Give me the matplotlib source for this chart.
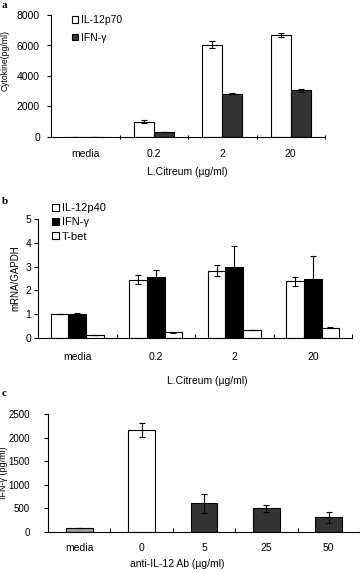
import numpy as np
import matplotlib
matplotlib.use('Agg')
from matplotlib import pyplot as plt

plt.rcParams['font.family'] = ['Liberation Sans', 'DejaVu Sans']
plt.rcParams['font.size'] = 7.5

# panel a
cats_a = ['media', '0.2', '2', '20']
il12p70 = [0, 1000, 6050, 6700]
il12p70_err = [0, 90, 220, 150]
ifng_a = [0, 350, 2850, 3060]
ifng_a_err = [0, 0, 50, 120]

# panel b
cats_b = ['media', '0.2', '2', '20']
il12p40 = [1.0, 2.45, 2.83, 2.38]
il12p40_err = [0, 0.2, 0.22, 0.18]
ifng_b = [1.0, 2.57, 2.98, 2.5]
ifng_b_err = [0.05, 0.3, 0.9, 0.95]
tbet = [0.12, 0.24, 0.35, 0.43]
tbet_err = [0, 0.02, 0, 0.02]

# panel c
cats_c = ['media', '0', '5', '25', '50']
ifng_c = [80, 2160, 610, 500, 310]
ifng_c_err = [0, 140, 200, 70, 110]
colors_c = ['#a0a0a0', 'white', '#333333', '#333333', '#333333']

W, H = 360, 573
fig = plt.figure(figsize=(W / 100, H / 100), dpi=100)


def make_ax(l, r, t, b):
    return fig.add_axes([l / W, 1 - b / H, (r - l) / W, (b - t) / H])


def style(ax, n, tickdir, xpad, ypad):
    ax.spines['top'].set_visible(False)
    ax.spines['right'].set_visible(False)
    for s in ('left', 'bottom'):
        ax.spines[s].set_linewidth(0.8)
    ax.set_xlim(-0.5, n - 0.5)
    ax.set_xticks(np.arange(n))
    ax.set_xticks(np.arange(n) + 0.5, minor=True)
    ax.tick_params(axis='x', which='major', length=0, pad=xpad)
    ax.tick_params(axis='x', which='minor', length=3, direction=tickdir, width=0.8)
    ax.tick_params(axis='y', length=3, width=0.8, pad=ypad)


ekw = dict(ecolor='black', elinewidth=0.8, capsize=2.5, capthick=0.8)
legkw = dict(frameon=False, loc='upper left', bbox_transform=fig.transFigure,
             handlelength=0.6, handleheight=0.6, handletextpad=0.3,
             borderaxespad=0, borderpad=0)

# a
ax = make_ax(51, 325, 15, 137)
x = np.arange(len(cats_a))
w = 0.29
ax.bar(x - w / 2, il12p70, w, color='white', edgecolor='black', linewidth=0.8,
       yerr=il12p70_err, error_kw=ekw, label='IL-12p70')
ax.bar(x + w / 2, ifng_a, w, color='#333333', edgecolor='black', linewidth=0.8,
       yerr=ifng_a_err, error_kw=ekw, label='IFN-γ')
style(ax, len(cats_a), 'inout', 9, 5)
ax.set_xticklabels(cats_a)
ax.set_ylim(0, 8000)
ax.set_yticks([0, 2000, 4000, 6000, 8000])
ax.set_xlabel('L.Citreum (µg/ml)')
ax.xaxis.set_label_coords(0.496, -0.25)
ax.set_ylabel('Cytokine(pg/ml)', fontsize=6.2)
ax.yaxis.set_label_coords(-0.15, 0.63)
ax.legend(bbox_to_anchor=(72 / W, 1 - 15 / H), labelspacing=0.75, **legkw)
fig.text(2 / W, 1 - 5 / H, 'a', family='Liberation Serif', weight='bold',
         fontsize=8, va='center')

# b
ax = make_ax(38, 352, 219, 338)
x = np.arange(len(cats_b))
w = 0.223
ax.bar(x - w, il12p40, w, color='white', edgecolor='black', linewidth=0.8,
       yerr=il12p40_err, error_kw=ekw, label='IL-12p40')
ax.bar(x, ifng_b, w, color='black', edgecolor='black', linewidth=0.8,
       yerr=ifng_b_err, error_kw=ekw, label='IFN-γ')
ax.bar(x + w, tbet, w, color='white', edgecolor='black', linewidth=0.8,
       yerr=tbet_err, error_kw=ekw, label='T-bet')
style(ax, len(cats_b), 'in', 10, 2)
ax.set_xticklabels(cats_b)
ax.set_ylim(0, 5)
ax.set_yticks([0, 1, 2, 3, 4, 5])
ax.set_xlabel('L.Citreum (µg/ml)')
ax.xaxis.set_label_coords(0.54, -0.32)
ax.set_ylabel('mRNA/GAPDH', fontsize=7)
ax.yaxis.set_label_coords(-0.057, 0.5)
ax.legend(bbox_to_anchor=(52 / W, 1 - 203 / H), labelspacing=0.4,
          prop={'size': 8}, **legkw)
fig.text(2 / W, 1 - 202 / H, 'b', family='Liberation Serif', weight='bold',
         fontsize=8, va='center')

# c
ax = make_ax(48, 360, 414, 532)
x = np.arange(len(cats_c))
ax.bar(x, ifng_c, 0.43, color=colors_c, edgecolor='black', linewidth=0.8,
       yerr=ifng_c_err, error_kw=ekw)
style(ax, len(cats_c), 'in', 8, 10)
ax.tick_params(axis='y', labelsize=7)
ax.set_xticklabels(cats_c)
ax.set_ylim(0, 2500)
ax.set_yticks([0, 500, 1000, 1500, 2000, 2500])
ax.set_xlabel('anti-IL-12 Ab (µg/ml)')
ax.xaxis.set_label_coords(0.413, -0.23)
ax.set_ylabel('IFN-γ (pg/ml)', fontsize=6.5)
ax.yaxis.set_label_coords(-0.128, 0.5)
fig.text(2 / W, 1 - 393 / H, 'c', family='Liberation Serif', weight='bold',
         fontsize=8, va='center')

fig.savefig('out.png', dpi=100)
